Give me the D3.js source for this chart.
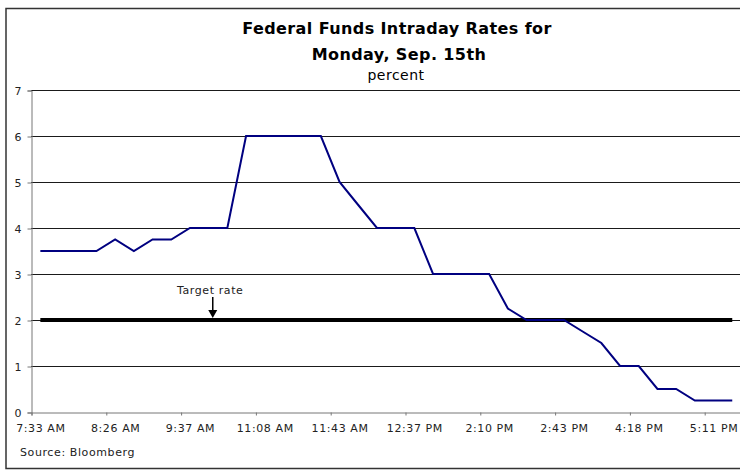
<!DOCTYPE html>
<html>
<head>
<meta charset="utf-8">
<script src="https://cdn.jsdelivr.net/npm/d3@7"></script>
<style>
  body { margin: 0; background: #fff; }
  text { font-family: "DejaVu Sans", Verdana, sans-serif; }
</style>
</head>
<body>
<div id="chart-container"></div>
<script>
"use strict"

// intraday fed funds rate, one value per observation (percent)
const rates = [3.5, 3.5, 3.5, 3.5, 3.75, 3.5, 3.75, 3.75, 4, 4,
               4, 6, 6, 6, 6, 6, 5, 4.5, 4, 4,
               4, 3, 3, 3, 3, 2.25, 2, 2, 2, 1.75,
               1.5, 1, 1, 0.5, 0.5, 0.25, 0.25, 0.25];

// every 4th observation is labelled on the x axis
const timeLabels = ["7:33 AM", "8:26 AM", "9:37 AM", "11:08 AM", "11:43 AM",
                    "12:37 PM", "2:10 PM", "2:43 PM", "4:18 PM", "5:11 PM"];
const labelStep = 4;

const yTicks = [0, 1, 2, 3, 4, 5, 6, 7];
const targetRate = 2;

document.addEventListener('DOMContentLoaded', function(){
  drawChart();
});

function drawChart(){
  let svgWidth = 740;
  let svgHeight = 470;
  let left = 31, right = 741.6, top = 90, bottom = 412;

  var svg = d3.select('#chart-container')
    .append('svg')
    .attr('width', svgWidth)
    .attr('height', svgHeight);

  // outer frame
  svg.append('rect')
    .attr('x', 6).attr('y', 8.5)
    .attr('width', 760).attr('height', 460)
    .attr('fill', 'none')
    .attr('stroke', '#333')
    .attr('stroke-width', 1.5);

  /***************************************
   SCALES
  ***************************************/
  // category positions: observation i sits at the middle of slot i
  let xScale = d3.scaleLinear()
    .domain([0, rates.length])
    .range([left, right]);

  let yScale = d3.scaleLinear()
    .domain([0, 7])
    .range([bottom, top]);

  //gridlines
  svg.append('g')
    .selectAll('line')
    .data(yTicks.filter(d => d > 0))
    .enter()
    .append('line')
    .attr('x1', left).attr('x2', right)
    .attr('y1', d => Math.round(yScale(d)) + 0.5)
    .attr('y2', d => Math.round(yScale(d)) + 0.5)
    .attr('stroke', '#1a1a1a')
    .attr('stroke-width', 1);

  /***************************************
   AXES
  ***************************************/
  const yAxis = d3.axisLeft(yScale)
    .tickValues(yTicks)
    .tickFormat(d3.format('d'))
    .tickSize(4)
    .tickPadding(6);

  let yG = svg.append('g')
    .attr('transform', 'translate(' + (left + 0.5) + ',0.5)')
    .call(yAxis);
  yG.selectAll('text').style('font-size', '11px').attr('fill', '#222');

  // tick marks between category groups
  const xTickAxis = d3.axisBottom(xScale)
    .tickValues(d3.range(0, rates.length + 1, labelStep))
    .tickSize(3)
    .tickFormat('');

  let xG = svg.append('g')
    .attr('transform', 'translate(0.5,' + (bottom + 0.5) + ')')
    .call(xTickAxis);

  // labels centred on labelled observations
  const xLabelAxis = d3.axisBottom(xScale)
    .tickValues(timeLabels.map((d, i) => i * labelStep + 0.5))
    .tickSize(0)
    .tickPadding(12)
    .tickFormat((d, i) => timeLabels[i]);

  let xL = svg.append('g')
    .attr('transform', 'translate(0,' + bottom + ')')
    .call(xLabelAxis);
  xL.select('.domain').remove();
  xL.selectAll('text')
    .style('font-size', '11px')
    .style('letter-spacing', '0.6px')
    .attr('fill', '#222');

  [yG, xG].forEach(g => {
    g.select('.domain').attr('stroke', '#777');
    g.selectAll('.tick line').attr('stroke', '#777');
  });

  /***************************************
   TARGET RATE + SERIES
  ***************************************/
  svg.append('line')
    .attr('x1', xScale(0.5)).attr('x2', xScale(rates.length - 0.5))
    .attr('y1', yScale(targetRate)).attr('y2', yScale(targetRate))
    .attr('stroke', '#000')
    .attr('stroke-width', 4);

  const line = d3.line()
    .x((d, i) => xScale(i + 0.5))
    .y(d => yScale(d));

  svg.append('path')
    .datum(rates)
    .attr('d', line)
    .attr('fill', 'none')
    .attr('stroke', '#000080')
    .attr('stroke-width', 2)
    .attr('stroke-linejoin', 'miter');

  // annotation
  let ax = xScale(9.72);
  let ay = yScale(targetRate) - 2;
  svg.append('text')
    .attr('x', ax - 2.5)
    .attr('y', 294)
    .attr('text-anchor', 'middle')
    .style('font-size', '11px')
    .style('letter-spacing', '0.6px')
    .attr('fill', '#222')
    .text('Target rate');

  svg.append('line')
    .attr('x1', ax).attr('x2', ax)
    .attr('y1', 297).attr('y2', ay - 6)
    .attr('stroke', '#000')
    .attr('stroke-width', 1.5);

  svg.append('path')
    .attr('d', 'M' + (ax - 4.5) + ',' + (ay - 8) + 'L' + (ax + 4.5) + ',' + (ay - 8) + 'L' + ax + ',' + ay + 'Z')
    .attr('fill', '#000');

  /***************************************
   TITLES
  ***************************************/
  svg.append('text')
    .attr('x', 397).attr('y', 33.5)
    .attr('text-anchor', 'middle')
    .style('font-size', '16px')
    .style('font-weight', 'bold')
    .style('letter-spacing', '0.4px')
    .text('Federal Funds Intraday Rates for');

  svg.append('text')
    .attr('x', 399).attr('y', 60)
    .attr('text-anchor', 'middle')
    .style('font-size', '16px')
    .style('font-weight', 'bold')
    .style('letter-spacing', '0.4px')
    .text('Monday, Sep. 15th');

  svg.append('text')
    .attr('x', 396).attr('y', 80)
    .attr('text-anchor', 'middle')
    .style('font-size', '14px')
    .style('letter-spacing', '0.5px')
    .text('percent');

  svg.append('text')
    .attr('x', 20).attr('y', 456)
    .style('font-size', '11px')
    .style('letter-spacing', '0.6px')
    .attr('fill', '#222')
    .text('Source: Bloomberg');
}
</script>
</body>
</html>
